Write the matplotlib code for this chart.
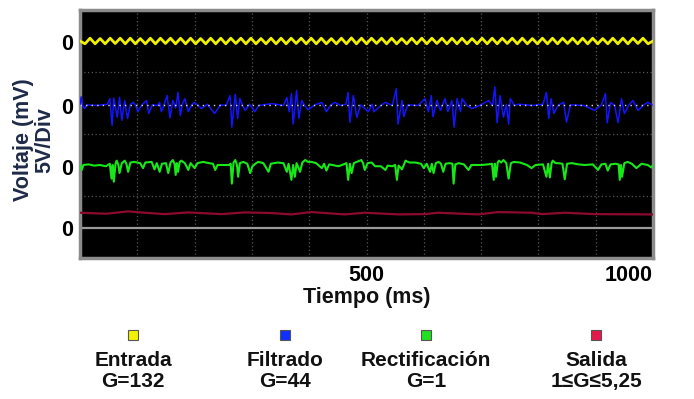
import matplotlib
matplotlib.use("Agg")
import matplotlib.pyplot as plt
import numpy as np
from matplotlib.lines import Line2D

plt.rcParams['font.family'] = ['Liberation Sans', 'DejaVu Sans']
plt.rcParams['font.weight'] = 'bold'

# channel baselines (in divisions, 4 divisions over the screen)
base_entrada = 3.50
base_filtrado = 2.46
base_rect = 1.50
base_salida = 0.73
zero_lines = [3.48, 2.45, 1.47, 0.48]

# Entrada: triangle-like sine, vertices
entrada_v = [
    0.00, -0.045, 0.045, -0.045, 0.04, -0.045, 0.045, -0.04, 0.045, -0.045,
    0.045, -0.045, 0.04, -0.045, 0.045, -0.045, 0.045, -0.04, 0.045, -0.045,
    0.045, -0.045, 0.045, -0.045, 0.04, -0.045, 0.045, -0.045, 0.045, -0.045,
    0.045, -0.04, 0.045, -0.045, 0.045, -0.045, 0.04, -0.045, 0.045, -0.045,
    0.045, -0.045, 0.045, -0.04, 0.045, -0.045, 0.045, -0.045, 0.045, -0.045,
    0.04, -0.045, 0.045, -0.045, 0.05, -0.045, 0.045, -0.045, 0.045, -0.04,
    0.045, -0.045, 0.045, -0.045, 0.04, -0.045, 0.045, -0.045, 0.045, -0.045,
    0.045, -0.04, 0.045, -0.045, 0.045, -0.045, 0.045, -0.045, 0.04, -0.045,
    0.045, -0.045, 0.045, -0.045, 0.045, -0.04, 0.045, -0.045, 0.045, -0.045,
    0.04, -0.045, 0.045, -0.045, 0.045, -0.045, 0.045, -0.04, 0.045, -0.045,
    0.045, -0.045, 0.045, -0.045, 0.04, -0.045, 0.045, -0.045, 0.045, -0.045,
    0.045, -0.04, 0.045, -0.045, 0.00,
]
entrada_t = np.linspace(0, 1000, len(entrada_v))

filtrado_t = [0, 2, 5, 8, 12, 30, 48, 52, 56, 59, 65, 69, 73, 78, 83, 88, 93, 97, 101, 108,
              116, 120, 126, 135, 139, 142, 147, 152, 157, 162, 167, 171, 175, 179, 183, 189,
              195, 200, 206, 212, 222, 235, 245, 255, 262, 265, 271, 275, 279, 284, 288, 296,
              305, 312, 335, 355, 361, 365, 369, 372, 378, 382, 387, 392, 398, 410, 422, 430,
              438, 445, 455, 464, 468, 471, 477, 483, 490, 503, 510, 513, 525, 533, 545, 552,
              555, 562, 565, 572, 590, 602, 608, 613, 616, 623, 629, 637, 642, 649, 653, 658,
              664, 667, 675, 684, 700, 713, 720, 724, 728, 733, 739, 744, 748, 751, 758, 766,
              790, 808, 814, 818, 822, 827, 835, 844, 849, 856, 880, 898, 910, 917, 920, 926,
              933, 939, 945, 950, 958, 965, 974, 984, 991, 1000]
filtrado_v = [0, 0.14, -0.02, -0.05, 0.01, 0, 0.02, 0.11, -0.32, 0.12, -0.19, 0.13, -0.24, 0.08,
              -0.21, 0.02, 0.05, 0, -0.1, 0.01, 0.08, -0.13, 0.01, 0, 0.05, -0.1, 0.02, 0.16,
              -0.2, 0.08, -0.04, 0.21, -0.16, 0.03, 0.11, -0.1, 0.01, 0.05, 0, -0.05, 0.02,
              -0.13, 0.01, 0, 0.16, -0.35, 0.18, -0.21, 0.11, 0, -0.08, 0.02, -0.1, 0, 0.03, 0,
              0.13, -0.1, 0.19, -0.3, 0.24, -0.21, 0.08, 0, -0.07, 0.01, 0.05, -0.1, 0.01, 0.05,
              0, 0.02, 0.21, -0.27, 0.16, -0.19, 0.01, -0.1, 0.02, -0.1, 0, 0.05, 0, 0.27, -0.3,
              0.08, -0.18, 0.01, 0, 0.11, -0.1, 0.16, -0.18, 0.08, -0.08, 0.11, -0.1, 0.08,
              -0.35, 0.11, -0.1, 0.11, 0, -0.05, 0.01, 0.08, 0, 0.3, -0.28, 0.16, -0.19, 0.02,
              -0.3, 0.11, 0, 0.02, 0, 0.02, 0.21, -0.21, 0.11, -0.13, 0.01, 0.05, -0.27, 0.01,
              0, -0.08, 0.01, 0.19, -0.28, 0.05, 0, -0.28, 0.11, -0.13, 0.01, 0.08, -0.08, 0.01,
              0.05, 0]

rect_t = [0, 3, 6, 15, 25, 35, 45, 52, 55, 57, 59, 62, 64, 67, 69, 73, 78, 81, 84, 88, 95, 105,
          110, 114, 125, 130, 134, 139, 143, 150, 154, 158, 162, 165, 167, 169, 171, 174, 177,
          183, 189, 193, 200, 205, 215, 225, 232, 236, 240, 250, 260, 263, 265, 268, 271, 274,
          276, 279, 285, 292, 297, 301, 306, 311, 320, 329, 333, 345, 355, 361, 364, 369, 372,
          375, 378, 384, 388, 393, 398, 404, 412, 422, 426, 430, 435, 451, 460, 465, 468, 471,
          474, 478, 483, 491, 494, 497, 502, 509, 515, 525, 533, 537, 545, 550, 553, 556, 562,
          566, 568, 575, 585, 595, 600, 605, 611, 614, 617, 621, 626, 630, 634, 638, 645, 650,
          652, 655, 661, 670, 678, 683, 701, 712, 719, 722, 724, 726, 729, 731, 735, 739, 744,
          748, 752, 757, 768, 780, 788, 795, 808, 814, 817, 820, 823, 825, 830, 834, 842, 846,
          850, 858, 870, 881, 895, 904, 910, 917, 921, 926, 935, 940, 942, 944, 946, 950, 956,
          963, 971, 980, 991, 997, 1000]
rect_v = [0.0, -0.08, 0.0, 0.01, -0.01, 0.0, -0.02, 0.02, -0.22, 0.0, -0.27, 0.02, 0.07, 0.0,
          -0.13, 0.03, 0.07, 0.02, -0.11, 0.04, 0.05, 0.03, -0.05, 0.04, 0.05, -0.07, 0.03,
          -0.11, 0.02, 0.03, -0.13, 0.04, 0.08, 0.02, -0.16, 0.03, -0.11, 0.05, 0.07, 0.03,
          -0.08, 0.03, -0.05, 0.03, 0.05, 0.03, 0.02, -0.08, 0.0, 0.0, 0.0, 0.02, -0.3, 0.04,
          0.08, 0.0, -0.19, 0.03, 0.05, 0.02, -0.13, -0.02, 0.02, 0.05, 0.03, -0.11, 0.02,
          0.04, 0.03, -0.11, 0.02, -0.24, 0.0, -0.19, 0.03, -0.11, 0.04, 0.08, 0.05, 0.05,
          0.03, -0.05, 0.02, -0.09, 0.01, -0.02, 0.01, 0.03, -0.24, 0.02, -0.13, 0.03, 0.05,
          0.08, 0.03, -0.08, 0.03, 0.04, -0.02, -0.02, -0.08, -0.01, -0.02, 0.0, -0.24, -0.01,
          -0.07, 0.02, 0.07, 0.04, 0.04, 0.02, -0.05, 0.02, -0.11, 0.02, -0.13, 0.03, 0.05,
          0.02, -0.11, 0.02, 0.03, 0.02, -0.3, 0.01, 0.03, 0.01, -0.08, 0.0, 0.0, 0.01, 0.02,
          -0.24, 0.02, -0.19, 0.04, 0.07, 0.04, 0.08, 0.03, -0.22, 0.03, 0.05, 0.04, 0.0,
          -0.05, 0.0, 0.01, -0.19, 0.02, -0.2, 0.03, 0.07, 0.03, 0.03, 0.02, -0.23, 0.02, 0.03,
          0.01, 0.0, 0.01, -0.08, 0.01, 0.02, -0.09, 0.01, 0.02, 0.01, -0.24, 0.0, -0.19, 0.03,
          0.05, 0.02, -0.05, 0.02, 0.0, -0.04, 0.0]

salida_t = [0, 46, 84, 113, 148, 189, 247, 287, 334, 369, 404, 462, 497, 556, 602, 625, 695,
            730, 788, 806, 846, 898, 991, 1000]
salida_v = [0, -0.016, 0.022, 0, -0.022, 0.005, -0.022, 0.005, -0.005, -0.027, 0.011, -0.027,
            0, -0.027, -0.022, 0, -0.027, 0.011, 0, -0.022, 0, -0.022, -0.027, -0.027]

xtick_pos = [100, 200, 300, 400, 500, 600, 700, 800, 900, 1000]
xtick_lab = ['', '', '', '', '500', '', '', '', '', '1000']

legend_names = ['Entrada\nG=132', 'Filtrado\nG=44', 'Rectificación\nG=1', 'Salida\n1≤G≤5,25']
legend_colors = ['#f2f200', '#1030ff', '#20e020', '#e8174a']

fig = plt.figure(figsize=(6.94, 3.99), dpi=100)
ax = fig.add_axes([80 / 694, 1 - 258 / 399, 573 / 694, 248 / 399])
ax.set_facecolor('black')
ax.set_xlim(0, 1000)
ax.set_ylim(0, 4)

for v in [1, 2, 3]:
    ax.axhline(v, color='#555555', lw=0.9, ls=(0, (1, 2)), zorder=1)
for v in xtick_pos[:-1]:
    ax.axvline(v, color='#555555', lw=0.9, ls=(0, (1, 2)), zorder=1)
ax.axhline(zero_lines[3], color='#9a9a9a', lw=1.6, zorder=2)

ax.plot(entrada_t, base_entrada + np.array(entrada_v), color='#f0f000', lw=2.0, zorder=3)
ax.plot(filtrado_t, base_filtrado + np.array(filtrado_v), color='#1414ff', lw=1.1, zorder=3)
ax.axhline(zero_lines[1] + 0.01, color='#d8d8d8', lw=1.0, ls=(0, (1, 3)), zorder=4)
ax.plot(rect_t, base_rect + np.array(rect_v), color='#18e818', lw=1.5, zorder=3)
ax.plot(salida_t, base_salida + np.array(salida_v), color='#8c0a2e', lw=1.6, zorder=3)

for s in ax.spines.values():
    s.set_color('#8c8c8c')
    s.set_linewidth(2.5)

ax.set_yticks(zero_lines)
ax.set_yticklabels(['0'] * 4)
ax.set_xticks(xtick_pos)
ax.set_xticklabels(xtick_lab)
ax.xaxis.get_ticklabels()[-1].set_horizontalalignment('right')
ax.tick_params(length=0, labelsize=15.5, pad=5, colors='black')
ax.set_xlabel('Tiempo (ms)', fontsize=15.5, fontweight='bold', labelpad=1, color='#111111')

fig.text(24 / 694, 1 - 140 / 399, 'Voltaje (mV)', rotation=90, ha='center', va='center',
         fontsize=15.5, color='#1f2a48')
fig.text(45 / 694, 1 - 140 / 399, '5V/Div', rotation=90, ha='center', va='center',
         fontsize=15.5, color='#1f2a48')

leg_x = [133, 285, 426, 596]
for x, name, c in zip(leg_x, legend_names, legend_colors):
    fig.add_artist(Line2D([x / 694], [1 - 335 / 399], transform=fig.transFigure, marker='s',
                          markersize=7.5, markerfacecolor=c, markeredgecolor='#555555',
                          markeredgewidth=0.8, linestyle='none'))
    fig.text(x / 694, 1 - 371 / 399, name, ha='center', va='center', fontsize=15,
             linespacing=1.15, color='#111111')

fig.savefig('out.png', dpi=100, facecolor='white')
